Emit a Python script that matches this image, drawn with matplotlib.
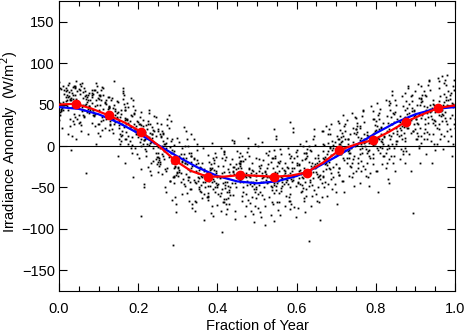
import matplotlib
matplotlib.use("Agg")
import matplotlib.pyplot as plt
from matplotlib.ticker import MultipleLocator, FormatStrFormatter

plt.rcParams['font.family'] = ['Liberation Sans', 'DejaVu Sans']

# Monthly means (red dots)
month_x = [0.042, 0.125, 0.208, 0.292, 0.375, 0.458, 0.542, 0.625, 0.708, 0.792, 0.875, 0.958]
month_anom = [51, 37, 17, -17, -37, -35, -37, -32, -5, 7, 29, 46]

red_x = [0.0, 0.042, 0.083, 0.125, 0.167, 0.208, 0.25, 0.292, 0.333, 0.375, 0.417, 0.458, 0.5,
         0.542, 0.583, 0.625, 0.667, 0.708, 0.75, 0.792, 0.833, 0.875, 0.917, 0.958, 1.0]
red_anom = [50, 51, 45, 37, 28, 17, 1, -17, -30, -37, -37, -35, -36,
            -37, -36, -32, -20, -5, 2, 7, 17, 29, 38, 46, 49]

# Annual fit (blue line)
blue_x = [0.0, 0.05, 0.1, 0.15, 0.2, 0.25, 0.3, 0.35, 0.4, 0.45, 0.5,
          0.55, 0.6, 0.65, 0.7, 0.75, 0.8, 0.85, 0.9, 0.95, 1.0]
blue_anom = [47, 44.8, 38.3, 28.2, 15.4, 1.2, -12.9, -25.9, -36.2, -42.7, -45,
             -42.7, -36.2, -25.9, -12.9, 1.2, 15.4, 28.2, 38.3, 44.8, 47]

# Individual measurements (black dots), one row per half month:
# day of year and irradiance anomaly (W/m^2)
obs_day = [
    [7, 2, 13, 0, 10, 5, 14, 3, 8, 11, 1, 6, 12, 4, 9, 15, 0, 7, 10, 2, 13, 5, 8, 1, 11, 4, 14, 6, 9, 3, 12, 7, 1, 10, 13, 4,
     3, 11, 6, 0, 14, 8, 2, 12, 5, 9, 1, 13, 7, 4, 10, 15, 6, 2, 11, 8],
    [22, 17, 28, 15, 25, 19, 30, 21, 16, 27, 23, 18, 29, 24, 20, 26, 15, 22, 28, 17, 25, 19, 21, 30, 16, 24, 27, 18, 23, 29, 20, 26, 22, 17, 25, 28,
     19, 27, 15, 23, 29, 21, 16, 26, 24, 18, 30, 20, 28, 22, 25, 17, 27, 19, 23, 16],
    [38, 31, 44, 35, 41, 30, 36, 45, 33, 40, 42, 32, 37, 46, 34, 39, 43, 31, 38, 35, 44, 30, 41, 36, 33, 45, 40, 37, 32, 42, 39, 34, 46, 38, 31, 43,
     35, 41, 30, 44, 37, 33, 40, 45, 32, 38, 42, 36, 31, 39, 43, 34, 46, 37, 41, 33],
    [53, 47, 59, 50, 56, 46, 52, 60, 48, 55, 57, 49, 54, 61, 51, 58, 46, 53, 59, 47, 56, 50, 52, 60, 48, 55, 57, 51, 49, 54, 61, 58, 46, 53, 50, 57,
     48, 55, 60, 47, 52, 58, 49, 56, 51, 59, 54, 46, 61, 50, 57, 53, 48, 55, 59, 52],
    [72, 64, 61, 69, 75, 66, 70, 63, 74, 67, 62, 71, 76, 65, 68, 73, 61, 64, 70, 75, 67, 62, 72, 69, 66, 74, 63, 71, 68, 76, 65, 61, 73, 70, 64, 67,
     75, 62, 69, 72, 66, 63, 74, 68, 71, 61, 65, 73, 70, 76, 64, 67, 62, 72, 69, 66],
    [84, 79, 90, 76, 87, 81, 77, 89, 83, 78, 86, 91, 80, 85, 82, 88, 76, 83, 79, 90, 86, 81, 77, 84, 89, 80, 87, 78, 91, 82, 85, 79, 88, 83, 76, 86,
     81, 89, 77, 84, 90, 79, 87, 82, 78, 85, 91, 80, 88, 83, 76, 86, 81, 89, 84, 78],
    [99, 93, 104, 96, 91, 101, 95, 106, 98, 92, 103, 97, 100, 94, 105, 102, 91, 96, 99, 104, 93, 101, 97, 92, 106, 95, 100, 103, 98, 94, 105, 91, 99, 102, 96, 93,
     104, 100, 92, 97, 106, 95, 101, 98, 103, 91, 94, 105, 99, 96, 102, 93, 100, 97, 104, 95],
    [113, 108, 119, 106, 116, 111, 121, 109, 114, 118, 107, 120, 112, 115, 110, 122, 117, 106, 113, 119, 108, 116, 121, 111, 109, 114, 118, 107, 120, 112, 115, 110, 122, 117, 113, 108,
     116, 119, 106, 111, 121, 114, 109, 118, 112, 107, 120, 115, 110, 117, 122, 113, 108, 119, 116, 111],
    [134, 126, 122, 131, 137, 128, 124, 133, 129, 136, 123, 127, 135, 130, 125, 132, 122, 137, 128, 134, 126, 131, 124, 136, 129, 123, 133, 127, 135, 130, 125, 132, 122, 128, 137, 134,
     126, 131, 124, 129, 136, 123, 133, 127, 130, 135, 125, 132, 128, 122, 134, 137, 126, 131, 129, 124],
    [145, 139, 150, 142, 137, 147, 141, 152, 144, 138, 149, 143, 146, 140, 151, 148, 137, 142, 145, 150, 139, 147, 143, 138, 152, 141, 146, 149, 144, 140, 151, 137, 145, 148, 142, 139,
     150, 146, 138, 143, 152, 141, 147, 144, 149, 137, 140, 151, 145, 142, 148, 139, 146, 143, 150, 141],
    [160, 155, 152, 163, 158, 166, 153, 161, 157, 164, 154, 159, 167, 156, 162, 165, 152, 158, 160, 154, 163, 157, 166, 153, 161, 155, 164, 159, 156, 167, 162, 152, 165, 158, 154, 160,
     157, 163, 153, 166, 156, 161, 159, 164, 155, 152, 162, 158, 167, 154, 160, 165, 157, 163, 153, 161],
    [175, 180, 169, 172, 178, 167, 182, 174, 170, 177, 181, 168, 173, 179, 171, 176, 167, 180, 175, 169, 178, 172, 182, 170, 174, 177, 168, 181, 173, 171, 179, 176, 167, 175, 180, 169,
     172, 178, 170, 182, 174, 168, 177, 173, 181, 171, 179, 167, 176, 175, 169, 180, 172, 178, 170, 174],
    [190, 184, 196, 187, 182, 193, 189, 198, 185, 191, 183, 195, 188, 197, 186, 192, 194, 182, 190, 196, 184, 187, 193, 198, 189, 185, 191, 183, 195, 188, 186, 197, 192, 194, 190, 182,
     187, 196, 184, 193, 189, 185, 198, 191, 183, 188, 195, 186, 192, 197, 194, 182, 190, 184, 196, 187],
    [206, 201, 212, 198, 209, 203, 200, 211, 205, 199, 208, 213, 202, 207, 204, 210, 198, 205, 201, 212, 208, 203, 199, 206, 211, 202, 209, 200, 213, 204, 207, 201, 210, 205, 198, 208,
     203, 211, 199, 206, 212, 201, 209, 204, 200, 207, 213, 202, 210, 205, 198, 208, 203, 211, 206, 200],
    [221, 215, 226, 218, 213, 224, 220, 216, 228, 222, 214, 219, 225, 217, 227, 223, 213, 218, 221, 226, 215, 224, 219, 214, 228, 220, 216, 225, 222, 217, 227, 213, 221, 223, 218, 215,
     226, 220, 214, 224, 228, 219, 216, 222, 225, 213, 217, 227, 221, 218, 223, 215, 226, 219, 224, 216],
    [236, 241, 230, 233, 239, 228, 243, 235, 231, 238, 242, 229, 234, 240, 232, 237, 228, 241, 236, 230, 239, 233, 243, 231, 235, 238, 229, 242, 234, 232, 240, 237, 228, 236, 241, 230,
     233, 239, 231, 243, 235, 229, 238, 234, 242, 232, 240, 228, 237, 236, 230, 241, 233, 239, 231, 235],
    [250, 245, 256, 243, 253, 248, 258, 246, 251, 255, 244, 257, 249, 252, 247, 254, 243, 250, 256, 245, 253, 258, 248, 246, 251, 255, 244, 257, 249, 252, 247, 254, 250, 245, 256, 243,
     248, 253, 258, 246, 251, 244, 255, 249, 257, 247, 252, 254, 245, 250, 243, 256, 248, 253, 246, 251],
    [266, 260, 271, 263, 258, 268, 262, 273, 265, 259, 270, 264, 267, 261, 272, 269, 258, 263, 266, 271, 260, 268, 264, 259, 273, 262, 267, 270, 265, 261, 272, 258, 266, 269, 263, 260,
     271, 267, 259, 264, 274, 262, 268, 265, 270, 258, 261, 272, 266, 263, 269, 260, 267, 264, 271, 262],
    [281, 286, 275, 278, 284, 274, 289, 280, 276, 283, 287, 275, 279, 285, 277, 282, 274, 286, 281, 276, 284, 278, 289, 277, 280, 283, 275, 288, 279, 277, 285, 282, 274, 281, 286, 276,
     278, 284, 277, 289, 280, 275, 283, 279, 287, 277, 285, 274, 282, 281, 276, 286, 278, 284, 277, 280],
    [297, 291, 302, 294, 289, 299, 293, 304, 296, 290, 301, 295, 298, 292, 303, 300, 289, 294, 297, 302, 291, 299, 295, 290, 304, 293, 298, 301, 296, 292, 303, 289, 297, 300, 294, 291,
     302, 298, 290, 295, 304, 293, 299, 296, 301, 289, 292, 303, 297, 294, 300, 291, 298, 295, 302, 293],
    [312, 306, 317, 304, 315, 309, 305, 316, 311, 307, 314, 319, 308, 313, 310, 318, 304, 311, 306, 317, 314, 309, 305, 312, 316, 308, 315, 307, 319, 310, 313, 306, 318, 311, 304, 314,
     309, 316, 305, 312, 317, 306, 315, 310, 307, 313, 319, 308, 318, 311, 304, 314, 309, 316, 312, 307],
    [327, 321, 332, 324, 319, 330, 326, 322, 334, 328, 320, 325, 331, 323, 333, 329, 319, 324, 327, 332, 321, 330, 325, 320, 334, 326, 322, 331, 328, 323, 333, 319, 327, 329, 324, 321,
     332, 326, 320, 330, 334, 325, 322, 328, 331, 319, 323, 333, 327, 324, 329, 321, 332, 325, 330, 322],
    [342, 347, 336, 339, 345, 334, 350, 341, 337, 344, 348, 335, 340, 346, 338, 343, 334, 347, 342, 336, 345, 339, 350, 337, 341, 344, 335, 349, 340, 338, 346, 343, 334, 342, 347, 336,
     339, 345, 337, 350, 341, 335, 344, 340, 348, 338, 346, 334, 343, 342, 336, 347, 339, 345, 337, 341],
    [357, 352, 363, 350, 360, 355, 365, 353, 358, 362, 351, 364, 356, 359, 354, 361, 350, 357, 363, 352, 360, 365, 355, 353, 358, 362, 351, 364, 356, 359, 354, 361, 357, 352, 363, 350,
     355, 360, 365, 353, 358, 351, 362, 356, 364, 354, 359, 361, 352, 357, 350, 363, 355, 360, 353, 358],
]
obs_anom = [
    [62, 45, 71, 38, 55, 68, 27, 50, 74, 58, 41, 66, 12, 53, 60, 35, 77, 48, 57, 69, 30, 63, 44, 52, -5, 72, 39, 59, 65, 22, 47, 56, 70, 33, 61, 43,
     46, 67, 54, 31, 73, 59, 42, 64, 50, 76, 37, 57, 68, 49, 24, 61, 70, 44, 55, 15],
    [58, 66, 40, 73, 51, 29, 62, 47, 78, 55, 36, 69, 44, 60, 18, 53, 71, 49, 64, 32, 57, 75, 42, 67, 8, 50, 61, 38, 70, 46, 25, 59, 65, 54, -33, 48,
     63, 45, 70, 35, 56, 76, 52, 41, 66, 28, 59, 72, 48, 37, 61, 54, 14, 68, 43, 57],
    [50, 63, 34, 72, 45, 28, 58, 41, 67, 19, 53, 38, 61, 47, 76, 30, 55, 44, 12, 65, 39, 52, 70, 26, 48, 59, 35, 43, 68, 22, 56, 3, 46, 62, 37, 51,
     49, 31, 64, 40, 57, 24, 71, 45, 36, 60, 52, 16, 43, 67, 33, 55, 47, 27, 62, 39],
    [40, 25, 57, 33, 14, 48, 29, 62, 37, 9, 44, 21, 53, 31, 79, 18, 41, 35, 66, 27, 2, 46, 38, 23, 55, 30, 12, 50, 36, -12, 43, 26, 59, 34, 16, 39,
     38, 22, 51, 30, 45, 13, 58, 35, 27, 64, 41, 19, 47, 32, 6, 54, 36, 25, 70, 42],
    [30, 12, 44, 22, 5, 37, 18, 52, 26, -8, 33, 15, 41, 24, -37, 29, 9, 47, 20, 35, 1, 27, 14, 39, 23, -15, 31, 17, 55, 25, 6, 34, 19, -3, 28, 11,
     27, 8, 40, 19, -2, 33, 14, 48, 24, -20, 30, 11, 44, 21, 3, 36, 17, -10, 26, 58],
    [16, -4, 28, 8, -18, 21, 2, 35, 11, -46, 14, -9, 25, 5, -25, 18, 0, 40, 9, -13, 23, 3, 31, -30, 12, -6, 19, 7, -1, 26, -20, 15, 4, 44, -85, 10,
     12, -8, 24, 4, -22, 17, -3, 30, 7, -35, 20, -12, 36, 1, -28, 14, 10, -16, 27, -50],
    [-2, 14, -20, 6, -31, 22, -10, -45, 3, -15, 30, -6, -26, 11, -38, -1, 18, -12, -55, 8, -22, 38, -4, -17, 1, -34, 25, -8, -28, 12, -120, -13, 4, -42, 16, -19,
     -5, 10, -24, 2, -36, 18, -13, -50, 6, -19, 26, -9, -30, 14, -42, -3, 33, -16, -65, 0],
    [-18, -35, 0, -27, -48, -12, -30, 10, -40, -22, -62, -8, -33, 23, -25, -52, -15, -38, -3, -28, -70, -20, -44, 5, -31, -16, -57, -24, -37, -10, -46, -26, 15, -34, -19, -80,
     -20, -38, -6, -29, -52, -14, -33, 8, -43, -25, -66, -10, -36, 18, -27, -58, -18, -41, 0, -31],
    [-28, -45, -12, -36, -60, -20, -41, -2, -52, -31, -75, -17, -44, -25, -66, -38, -8, -48, -33, -89, -22, -55, -14, -40, -29, -70, -35, 3, -50, -26, -43, -63, -19, -37, -57, -30,
     -30, -47, -16, -39, -62, -24, -44, -5, -54, -35, -78, -21, -42, -12, -58, -33, -68, -27, -49, 8],
    [-30, -48, -15, -40, -62, -24, -44, -6, -55, -35, -78, -20, -47, -28, -68, -39, -11, -52, -33, -104, -26, -58, -17, -42, -31, -72, -37, -2, -50, -22, -45, -65, -13, -38, -84, -29,
     -33, -50, -19, -42, -64, -27, -46, -9, -57, -38, -81, -24, -45, -14, -60, -36, -71, -29, -52, 4],
    [-25, -44, -10, -38, -59, -20, -47, 4, -53, -32, -70, -16, -41, -28, -88, -36, -7, -50, -30, -64, -22, -56, -13, -43, -34, -76, -39, 7, -48, -18, -45, -67, -27, -35, -82, -31,
     -31, -49, -17, -40, -63, -25, -45, -6, -55, -37, -79, -22, -43, -13, -59, -34, -70, -28, -51, 6],
    [-28, -46, -12, -37, -61, -22, -49, -3, -55, -33, -73, -18, -42, -30, -85, -38, -8, -52, -26, -66, -20, -58, -14, -44, -35, -78, -40, 2, -47, -16, -43, -69, -24, -36, -92, -31,
     -32, -48, -18, -41, -65, -26, -44, -7, -56, -36, -82, -21, -46, -12, -60, -35, -72, -29, -50, 10],
    [-30, -47, -14, -39, -63, -22, -50, 21, -56, -34, -75, -19, -43, -27, -86, -37, -6, -52, -31, -68, -24, -59, -11, -45, -36, -80, -41, 0, -48, -17, -44, -70, -26, -38, -95, -33,
     -33, -50, -16, -43, -64, -27, -47, -8, -58, -38, -83, -23, -45, -14, -61, -36, -73, -30, -53, 5],
    [-26, -45, -10, -38, -60, -20, -48, -2, -54, -31, -72, -15, -42, -29, -83, -36, -5, -51, -33, -66, -21, -57, -12, -44, -35, -77, -40, 8, -49, -18, -46, -68, -25, -37, -90, -30,
     -30, -46, -15, -39, -62, -24, -43, -4, -53, -35, -76, -19, -41, -10, -57, -32, -68, -26, -48, 12],
    [-22, -42, -8, -35, -58, -17, -45, 17, -52, -29, -70, -12, -39, -26, -80, -33, 29, -48, -30, -63, -19, -54, -5, -40, -31, -75, -37, 0, -46, -15, -43, -66, -23, -34, -86, -27,
     -27, -44, -12, -37, -60, -20, -41, 2, -51, -32, -74, -16, -39, -7, -55, -30, -66, -23, -47, 22],
    [-15, -35, 0, -27, -50, -8, -38, 12, -44, -21, -62, -4, -31, -18, -72, -25, 6, -40, -22, -115, -11, -47, 3, -33, -24, -66, -29, 18, -39, -6, -36, -58, -14, -26, -89, -19,
     -20, -38, -5, -30, -53, -12, -34, 9, -45, -24, -68, -8, -31, 1, -48, -22, -60, -15, -41, 20],
    [-3, -22, 12, -14, -38, 4, -26, 24, -32, -8, -50, 8, -19, -5, -60, -12, 18, -28, -9, -44, 1, -35, 15, -21, -11, -55, -16, 30, -27, 6, -23, -46, -1, -13, -70, -6,
     -6, -25, 8, -16, -40, 1, -22, 20, -31, -10, -52, 5, -18, 14, -36, -8, -46, -2, -28, 26],
    [8, -10, 22, -3, -26, 14, -15, 35, -20, 3, -38, 18, -8, 6, -48, -1, 28, -17, 2, -32, 11, -24, 26, -10, 0, -42, -5, 40, -15, 16, -12, -35, 9, -2, -55, 5,
     5, -14, 19, -5, -30, 12, -9, 31, -20, 2, -42, 16, -6, 24, -25, 0, -36, 9, -16, 37],
    [14, -5, 28, 3, -20, 20, -10, 42, -14, 9, -32, 24, -2, 12, -45, 5, 34, -12, 8, -26, 17, -18, 32, -4, 6, -36, 1, 48, -8, 22, -6, -28, 15, 4, -48, 11,
     10, -9, 24, 1, -24, 17, -4, 36, -15, 7, -38, 21, 0, 29, -20, 4, -30, 13, -10, 44],
    [22, 2, 36, 10, -14, 28, -3, 50, -8, 16, -26, 32, 5, 19, -40, 12, 42, -5, 15, -20, 25, -12, 40, 3, 13, -30, 8, 56, -1, 30, 1, -22, 23, 11, -56, 18,
     18, -2, 32, 8, -16, 24, 3, 45, -8, 14, -30, 28, 6, 38, -12, 11, -22, 20, -4, 52],
    [33, 12, 48, 21, -4, 39, 8, 60, 3, 27, -16, 44, 16, 30, -30, 23, 54, 6, 26, -10, 36, -2, 52, 14, 24, -20, 19, 66, 10, 41, 12, -12, 34, 22, -45, 29,
     29, 8, 44, 18, -6, 35, 13, 56, 2, 25, -20, 40, 16, 50, -2, 22, -12, 31, 6, 62],
    [42, 22, 58, 31, 6, 49, 18, 70, 12, 37, -6, 54, 26, 40, -20, 33, 64, 16, 36, 0, 46, 8, 62, 24, 34, -81, 29, 75, 20, 51, 22, -2, 44, 32, -30, 39,
     39, 18, 54, 28, 4, 46, 22, 66, 12, 35, -10, 50, 26, 60, 8, 32, -2, 42, 16, 72],
    [50, 30, 66, 40, 15, 57, 26, 78, 20, 46, 3, 62, 35, 49, -10, 42, 72, 25, 45, 8, 55, 17, 70, 33, 43, -20, 38, 82, 28, 60, 31, 6, 53, 41, -5, 48,
     47, 28, 62, 38, 14, 54, 32, 74, 22, 44, 2, 58, 36, 68, 16, 41, 8, 51, 26, 80],
    [56, 36, 72, 46, 20, 63, 32, 84, 26, 52, 8, 68, 41, 55, -4, 48, 78, 30, 51, 14, 61, 22, 76, 39, 49, -12, 44, 80, 34, 66, 37, 12, 59, 47, 2, 54,
     53, 34, 68, 44, 18, 60, 38, 80, 26, 50, 6, 64, 42, 74, 20, 47, 12, 57, 30, 86],
]

obs_x = []
obs_y = []
for days, anoms in zip(obs_day, obs_anom):
    for d, a in zip(days, anoms):
        obs_x.append(d / 365.0)
        obs_y.append(a)

fig = plt.figure(figsize=(4.65, 3.34), dpi=100)
ax = fig.add_axes([59 / 465, 43 / 334, 396 / 465, 290 / 334])

ax.plot(obs_x, obs_y, linestyle='none', marker='s', markersize=1.3,
        markeredgewidth=0, color='black', zorder=1)
ax.axhline(0, color='black', linewidth=0.8, zorder=2)
ax.plot(blue_x, blue_anom, color='#0000ff', linewidth=1.6, zorder=3)
ax.plot(red_x, red_anom, color='#ff0000', linewidth=1.6, zorder=4)
ax.plot(month_x, month_anom, linestyle='none', marker='o', markersize=6,
        color='#ff0000', zorder=5)

ax.set_xlim(0, 1)
ax.set_ylim(-175, 175)
ax.xaxis.set_major_locator(MultipleLocator(0.2))
ax.xaxis.set_minor_locator(MultipleLocator(0.05))
ax.xaxis.set_major_formatter(FormatStrFormatter('%.1f'))
ax.yaxis.set_major_locator(MultipleLocator(50))
ax.tick_params(which='both', direction='in', top=True, right=True, width=0.8,
               labelsize=10.5)
ax.tick_params(which='major', length=6)
ax.tick_params(axis='x', which='major', pad=8)
ax.tick_params(axis='y', which='major', pad=3)
ax.tick_params(which='minor', length=3.5)
for s in ax.spines.values():
    s.set_linewidth(0.8)

ax.set_xlabel('Fraction of Year', fontsize=10.5, labelpad=2)
ax.set_ylabel('Irradiance Anomaly  (W/m$^2$)', fontsize=10.5)
ax.yaxis.set_label_coords(-0.098, 0.515)

fig.savefig('out.png', dpi=100)
